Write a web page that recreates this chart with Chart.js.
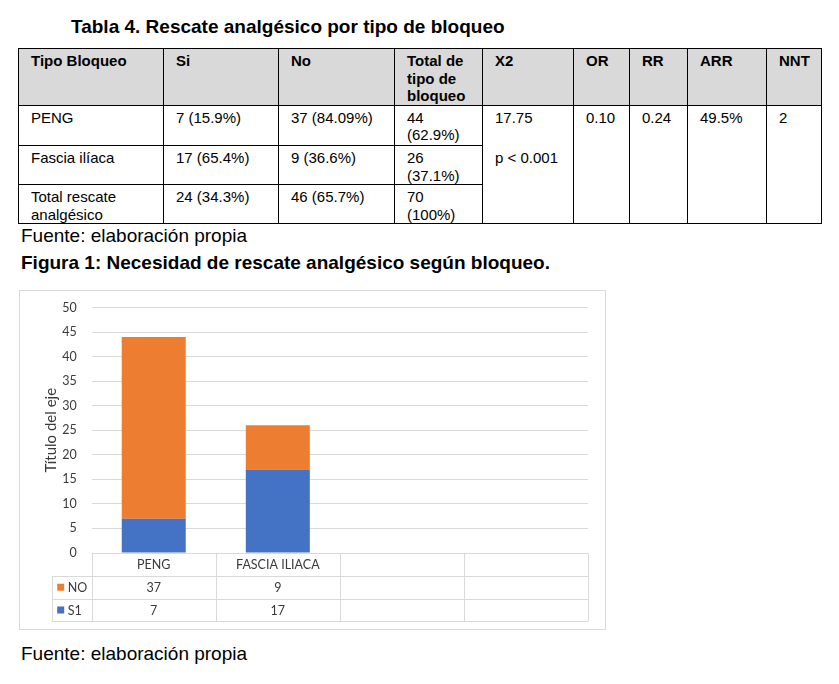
<!DOCTYPE html>
<html>
<head>
<meta charset="utf-8">
<script src="https://cdn.jsdelivr.net/npm/chart.js@4.4.1/dist/chart.umd.min.js"></script>
<style>
  body { margin: 0; background: #fff; width: 839px; height: 684px; position: relative; overflow: hidden;
         font-family: "Liberation Sans", Arial, sans-serif; color: #000; }
  .cap { position: absolute; font-size: 19px; line-height: 19px; white-space: nowrap; }
  .b { font-weight: bold; }
  table.t { position: absolute; left: 18px; top: 48px; border-collapse: collapse; table-layout: fixed;
            font-size: 15px; line-height: 17.5px; }
  table.t th, table.t td { border: 1.4px solid #000; vertical-align: top; text-align: left;
            padding: 3px 4px 0 12px; white-space: nowrap; overflow: hidden; }
  table.t th { background: #d9d9d9; font-weight: bold; }
  table.t td .p { margin-top: 23px; }
  #box { position: absolute; left: 19px; top: 290px; width: 587px; height: 340px; box-sizing: border-box;
         border: 1px solid #d9d9d9; }
  #usersChart { position: absolute; left: 19px; top: 290px; }
</style>
</head>
<body>
<div class="cap b" style="left:71px; top:17px">Tabla 4. Rescate analgésico por tipo de bloqueo</div>

<table class="t">
  <colgroup>
    <col style="width:145px"><col style="width:115px"><col style="width:116px"><col style="width:88px">
    <col style="width:91px"><col style="width:56px"><col style="width:58px"><col style="width:79px"><col style="width:55px">
  </colgroup>
  <tr style="height:56px">
    <th>Tipo Bloqueo</th><th>Si</th><th>No</th><th>Total de<br>tipo de<br>bloqueo</th>
    <th>X2</th><th>OR</th><th>RR</th><th>ARR</th><th>NNT</th>
  </tr>
  <tr style="height:40.5px">
    <td>PENG</td><td>7 (15.9%)</td><td>37 (84.09%)</td><td>44<br>(62.9%)</td>
    <td rowspan="3">17.75<div class="p">p &lt; 0.001</div></td>
    <td rowspan="3">0.10</td><td rowspan="3">0.24</td><td rowspan="3">49.5%</td><td rowspan="3">2</td>
  </tr>
  <tr style="height:39px">
    <td>Fascia ilíaca</td><td>17 (65.4%)</td><td>9 (36.6%)</td><td>26<br>(37.1%)</td>
  </tr>
  <tr style="height:39px">
    <td>Total rescate<br>analgésico</td><td>24 (34.3%)</td><td>46 (65.7%)</td><td>70<br>(100%)</td>
  </tr>
</table>

<div class="cap" style="left:21px; top:225.5px">Fuente: elaboración propia</div>
<div class="cap b" style="left:21px; top:253px">Figura 1: Necesidad de rescate analgésico según bloqueo.</div>

<div id="box"></div>
<canvas id="usersChart" width="587" height="340"></canvas>

<div class="cap" style="left:21px; top:644px">Fuente: elaboración propia</div>

<script>
// Data
const categories = ['PENG', 'FASCIA ILIACA', '', '']
const siValues = [7, 17, null, null]
const noValues = [37, 9, null, null]
const yTicks = [0, 5, 10, 15, 20, 25, 30, 35, 40, 45, 50]

const textColor = '#3a3a3a'
const lineColor = '#d9d9d9'
const fontName = 'Lato, "Open Sans", sans-serif'

// Excel-style data table under the plot, drawn from the same arrays
const dataTablePlugin = {
  id: 'dataTable',
  afterDraw(chart) {
    const ctx = chart.ctx
    const area = chart.chartArea
    const xScale = chart.scales.x
    const colW = (area.right - area.left) / categories.length
    const rowH = 22.8
    const top = area.bottom
    const legendLeft = area.left - 40

    ctx.save()
    ctx.strokeStyle = lineColor
    ctx.lineWidth = 1

    ctx.beginPath()
    for (let i = 0; i <= categories.length; i++) {
      const x = Math.round(area.left + i * colW) + 0.5
      ctx.moveTo(x, top)
      ctx.lineTo(x, top + 3 * rowH)
    }
    for (let r = 1; r <= 3; r++) {
      const y = Math.round(top + r * rowH) + 0.5
      ctx.moveTo(legendLeft, y)
      ctx.lineTo(area.right, y)
    }
    ctx.moveTo(Math.round(legendLeft) + 0.5, top + rowH)
    ctx.lineTo(Math.round(legendLeft) + 0.5, top + 3 * rowH)
    ctx.stroke()

    ctx.font = '12.5px ' + fontName
    ctx.fillStyle = textColor
    ctx.textAlign = 'center'
    ctx.textBaseline = 'middle'
    categories.forEach((c, i) => {
      ctx.fillText(c, xScale.getPixelForValue(i), top + rowH / 2 + 1)
    })

    // rows listed top series first, like Excel
    const rows = chart.data.datasets.slice().reverse()
    rows.forEach((ds, r) => {
      const cy = top + (r + 1.5) * rowH + 1
      ctx.fillStyle = ds.backgroundColor
      ctx.fillRect(legendLeft + 5.5, cy - 4.5, 7, 7)
      ctx.fillStyle = textColor
      ctx.textAlign = 'left'
      ctx.fillText(ds.label, legendLeft + 16, cy)
      ctx.textAlign = 'center'
      ds.data.forEach((v, i) => {
        if (v !== null) ctx.fillText(String(v), xScale.getPixelForValue(i), cy)
      })
    })
    ctx.restore()
  }
}

const ctx = document.getElementById('usersChart').getContext('2d')
const rescueChart = new Chart(ctx, {
  type: 'bar',
  data: {
    labels: categories,
    datasets: [{
      label: 'S1',
      data: siValues,
      backgroundColor: '#4472c4',
      barPercentage: 0.516,
      categoryPercentage: 1
    }, {
      label: 'NO',
      data: noValues,
      backgroundColor: '#ed7d31',
      barPercentage: 0.516,
      categoryPercentage: 1
    }]
  },
  options: {
    responsive: false,
    animation: false,
    layout: {
      padding: { top: 17.5, right: 18, bottom: 77, left: 0 }
    },
    plugins: {
      legend: { display: false },
      tooltip: { enabled: false }
    },
    scales: {
      x: {
        stacked: true,
        display: false
      },
      y: {
        stacked: true,
        min: 0,
        max: 50,
        afterBuildTicks: (scale) => {
          scale.ticks = yTicks.map(v => ({ value: v }))
        },
        afterFit: (scale) => {
          scale.width = 72.7
          // keep the plot top where the layout padding puts it
          scale.paddingTop = 0
          scale.paddingBottom = 0
        },
        border: { display: false },
        grid: {
          color: lineColor,
          drawTicks: false
        },
        ticks: {
          color: textColor,
          padding: 15,
          font: { family: fontName, size: 12.5 }
        },
        title: {
          display: true,
          text: 'Título del eje',
          color: textColor,
          padding: { top: 23, bottom: 0 },
          font: { family: fontName, size: 15 }
        }
      }
    }
  },
  plugins: [dataTablePlugin]
})
</script>
</body>
</html>
